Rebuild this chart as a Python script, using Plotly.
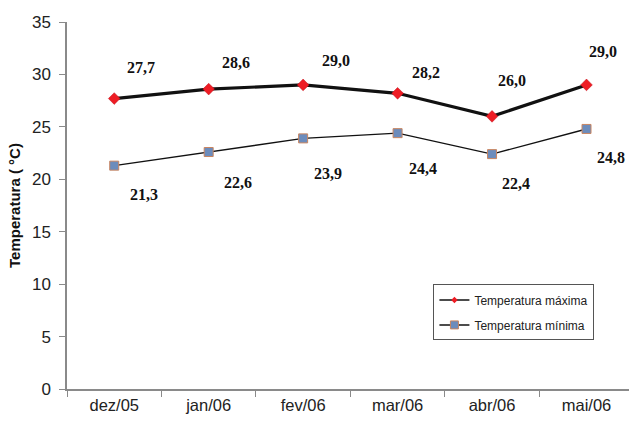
import plotly.graph_objects as go

# Monthly temperatures (°C)
months = ["dez/05", "jan/06", "fev/06", "mar/06", "abr/06", "mai/06"]
temp_max = [27.7, 28.6, 29.0, 28.2, 26.0, 29.0]
temp_min = [21.3, 22.6, 23.9, 24.4, 22.4, 24.8]
y_ticks = [0, 5, 10, 15, 20, 25, 30, 35]

# Pixel offsets of the value labels relative to each point
max_dx = [27, 27, 33, 28, 20, 16]
max_dy = [31, 27, 24, 21, 36, 33]
min_dx = [30, 29, 25, 25, 24, 24]
min_dy = [-29, -30, -35, -35, -29, -29]

MAX_LINE = dict(color="#111111", width=3.2)
MIN_LINE = dict(color="#111111", width=1.4)
RED = "#EE1C24"
BLUE = "#6C8CBC"

fig = go.Figure()

# Data series (legend entries are drawn by the small key traces below)
fig.add_trace(go.Scatter(
    x=months, y=temp_max, mode="lines+markers", name="Temperatura máxima",
    line=MAX_LINE, showlegend=False, legendgroup="max",
    marker=dict(symbol="diamond", size=9, color=RED,
                line=dict(color="#C0101A", width=0.5)),
))
fig.add_trace(go.Scatter(
    x=months, y=temp_min, mode="lines+markers", name="Temperatura mínima",
    line=MIN_LINE, showlegend=False, legendgroup="min",
    marker=dict(symbol="square", size=9, color=BLUE,
                line=dict(color="#C98560", width=1)),
))

# Legend keys with smaller symbols
fig.add_trace(go.Scatter(
    x=[None], y=[None], mode="lines+markers", name="Temperatura máxima",
    legendgroup="max", line=dict(color="#111111", width=1.5),
    marker=dict(symbol="diamond", size=5, color=RED),
))
fig.add_trace(go.Scatter(
    x=[None], y=[None], mode="lines+markers", name="Temperatura mínima",
    legendgroup="min", line=dict(color="#111111", width=1.5),
    marker=dict(symbol="square", size=8, color=BLUE,
                line=dict(color="#C98560", width=1)),
))

def fmt(v):
    return f"{v:.1f}".replace(".", ",")

label_font = dict(family="Liberation Serif, Times New Roman, serif",
                  size=16, color="#111111")
for m, v, dx, dy in zip(months, temp_max, max_dx, max_dy):
    fig.add_annotation(x=m, y=v, text=f"<b>{fmt(v)}</b>", showarrow=False,
                       xshift=dx, yshift=dy, font=label_font)
for m, v, dx, dy in zip(months, temp_min, min_dx, min_dy):
    fig.add_annotation(x=m, y=v, text=f"<b>{fmt(v)}</b>", showarrow=False,
                       xshift=dx, yshift=dy, font=label_font)

SANS = "Liberation Sans, Arial, sans-serif"

fig.update_layout(
    width=629, height=423,
    margin=dict(l=67, r=0, t=22, b=34),
    paper_bgcolor="white", plot_bgcolor="white",
    showlegend=True,
    legend=dict(
        x=0.652, y=0.285, xanchor="left", yanchor="top",
        bgcolor="white", bordercolor="#555555", borderwidth=1,
        font=dict(family=SANS, size=12, color="#222222"),
        itemwidth=30, tracegroupgap=6,
    ),
    xaxis=dict(
        type="category", categoryorder="array", categoryarray=months,
        range=[-0.5, 5.45],
        showline=True, linecolor="#8A8A8A", linewidth=1.5,
        ticks="outside", tickson="boundaries", ticklen=6, tickcolor="#8A8A8A",
        showgrid=False, zeroline=False,
        tickfont=dict(family=SANS, size=16.5, color="#222222"),
    ),
    yaxis=dict(
        range=[0, 35], tickvals=y_ticks,
        showline=True, linecolor="#8A8A8A", linewidth=1.5,
        ticks="outside", ticklen=6, tickcolor="#8A8A8A",
        ticklabelstandoff=5,
        showgrid=False, zeroline=False,
        tickfont=dict(family=SANS, size=17, color="#222222"),
        title=dict(text="<b>Temperatura ( °C)</b>", standoff=8,
                   font=dict(family=SANS, size=15, color="#111111")),
    ),
)

fig.write_html("out.html")
